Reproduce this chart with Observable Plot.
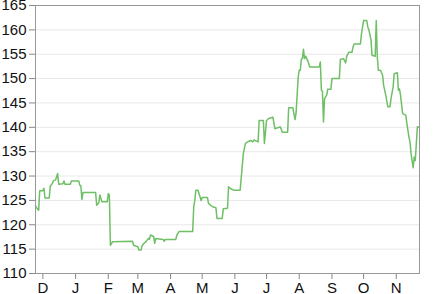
<!DOCTYPE html>
<html>
<head>
<meta charset="utf-8">
<script src="https://cdn.jsdelivr.net/npm/d3@7"></script>
<script src="https://cdn.jsdelivr.net/npm/@observablehq/plot@0.6"></script>
<style>
  html, body { margin: 0; padding: 0; background: #fff; }
</style>
</head>
<body>
<div id="chart"></div>
<script>
const dates = [
  "2012-11-24","2012-11-25","2012-11-27","2012-11-28","2012-12-01","2012-12-02","2012-12-03","2012-12-07",
  "2012-12-08","2012-12-10","2012-12-11","2012-12-13","2012-12-15","2012-12-16","2012-12-20","2012-12-21",
  "2012-12-22","2012-12-27","2012-12-28","2013-01-04","2013-01-05","2013-01-06","2013-01-07","2013-01-08",
  "2013-01-20","2013-01-21","2013-01-23","2013-01-24","2013-01-26","2013-01-31","2013-02-01","2013-02-02",
  "2013-02-03","2013-02-05","2013-02-24","2013-02-25","2013-03-01","2013-03-02","2013-03-04","2013-03-05",
  "2013-03-07","2013-03-09","2013-03-11","2013-03-12","2013-03-13","2013-03-16","2013-03-17","2013-03-18",
  "2013-03-25","2013-03-26","2013-03-27","2013-04-06","2013-04-07","2013-04-08","2013-04-09","2013-04-22",
  "2013-04-23","2013-04-24","2013-04-25","2013-04-27","2013-04-29","2013-04-30","2013-05-01","2013-05-06",
  "2013-05-07","2013-05-09","2013-05-11","2013-05-14","2013-05-15","2013-05-20","2013-05-21","2013-05-25",
  "2013-05-26","2013-05-28","2013-05-31","2013-06-06","2013-06-09","2013-06-11","2013-06-14","2013-06-16",
  "2013-06-18","2013-06-19","2013-06-23","2013-06-24","2013-06-28","2013-06-29","2013-07-01","2013-07-03",
  "2013-07-07","2013-07-09","2013-07-14","2013-07-16","2013-07-21","2013-07-22","2013-07-26","2013-07-28",
  "2013-07-29","2013-07-31","2013-08-01","2013-08-02","2013-08-03","2013-08-04","2013-08-05","2013-08-06",
  "2013-08-07","2013-08-09","2013-08-11","2013-08-20","2013-08-21","2013-08-22","2013-08-23","2013-08-24",
  "2013-08-25","2013-08-27","2013-08-28","2013-08-31","2013-09-01","2013-09-08","2013-09-09","2013-09-12",
  "2013-09-14","2013-09-15","2013-09-17","2013-09-20","2013-09-21","2013-09-22","2013-09-28","2013-09-29",
  "2013-10-01","2013-10-04","2013-10-05","2013-10-06","2013-10-08","2013-10-09","2013-10-12","2013-10-13",
  "2013-10-14","2013-10-15","2013-10-17","2013-10-19","2013-10-20","2013-10-22","2013-10-24","2013-10-26",
  "2013-10-27","2013-10-29","2013-10-30","2013-11-02","2013-11-03","2013-11-04","2013-11-05","2013-11-07",
  "2013-11-10","2013-11-11","2013-11-13","2013-11-14","2013-11-15","2013-11-17","2013-11-18","2013-11-19",
  "2013-11-20","2013-11-21","2013-11-23"
];
const prices = [
  123.9,123.5,123.0,127.0,127.0,127.5,125.5,125.5,
  127.9,128.5,129.0,129.2,130.5,128.3,128.4,129.0,
  128.3,128.3,129.0,129.0,128.1,128.0,125.2,126.6,
  126.6,124.0,124.5,126.1,124.7,124.7,126.4,126.1,
  115.8,116.5,116.6,115.8,115.5,114.8,114.8,115.7,
  116.2,116.6,117.2,117.0,117.9,117.6,116.2,117.2,
  117.0,116.6,117.0,117.0,117.9,118.2,118.6,118.6,
  123.7,125.0,127.1,127.1,125.7,125.0,125.6,125.6,
  124.4,124.0,123.7,123.5,121.3,121.3,123.3,123.4,
  127.8,127.4,127.1,127.1,134.6,136.7,137.1,137.3,
  137.0,137.4,137.0,141.4,141.4,136.7,141.4,141.8,
  142.1,139.7,140.1,139.0,139.0,144.0,144.0,141.6,
  142.9,150.3,151.7,151.7,154.0,154.1,156.0,154.1,
  154.6,153.7,152.4,152.4,153.4,147.6,147.4,141.1,
  145.9,146.6,147.8,147.8,150.0,150.0,153.9,154.1,
  153.2,154.6,155.4,155.4,156.5,157.1,157.1,159.2,
  161.9,161.9,160.6,160.0,158.0,154.8,154.6,161.9,
  154.4,151.7,151.7,150.7,148.6,146.6,144.2,144.2,
  145.9,148.3,151.0,151.2,147.6,147.9,146.6,142.8,
  142.5,140.8,138.0,137.0,134.6,131.7,133.9,133.2,
  136.7,140.1,140.0
];
const monthTicks = ["2012-12-01","2013-01-01","2013-02-01","2013-03-01","2013-04-01","2013-05-01",
  "2013-06-01","2013-07-01","2013-08-01","2013-09-01","2013-10-01","2013-11-01"];
const monthLabels = ["D","J","F","M","A","M","J","J","A","S","O","N"];
const yTicks = [110,115,120,125,130,135,140,145,150,155,160,165];

const data = dates.map((d, i) => ({date: new Date(d), price: prices[i]}));
const xTicks = monthTicks.map(d => new Date(d));

const chart = Plot.plot({
  width: 433,
  height: 294,
  marginLeft: 35,
  marginRight: 14,
  marginTop: 5,
  marginBottom: 21,
  style: {fontFamily: "'Liberation Sans', Arial, Helvetica, sans-serif", fontSize: "15px", background: "#fff", color: "#111"},
  x: {type: "utc", domain: [data[0].date, data[data.length - 1].date]},
  y: {domain: [110, 165]},
  marks: [
    Plot.gridY(yTicks, {stroke: "#e8e8e8", strokeOpacity: 1}),
    Plot.axisY(yTicks, {tickSize: 6, tickPadding: 3, stroke: "#888", fill: "#111", label: null, fontSize: 15}),
    Plot.axisX(xTicks, {tickSize: 6, tickPadding: 3, stroke: "#888", fill: "#111", label: null, fontSize: 15,
      tickFormat: (d) => monthLabels[xTicks.findIndex(t => +t === +d)]}),
    Plot.lineY(data, {x: "date", y: "price", stroke: "#6fbf66", strokeWidth: 1.5}),
    Plot.frame({stroke: "#999", strokeWidth: 1})
  ]
});
document.getElementById("chart").appendChild(chart);
</script>
</body>
</html>
